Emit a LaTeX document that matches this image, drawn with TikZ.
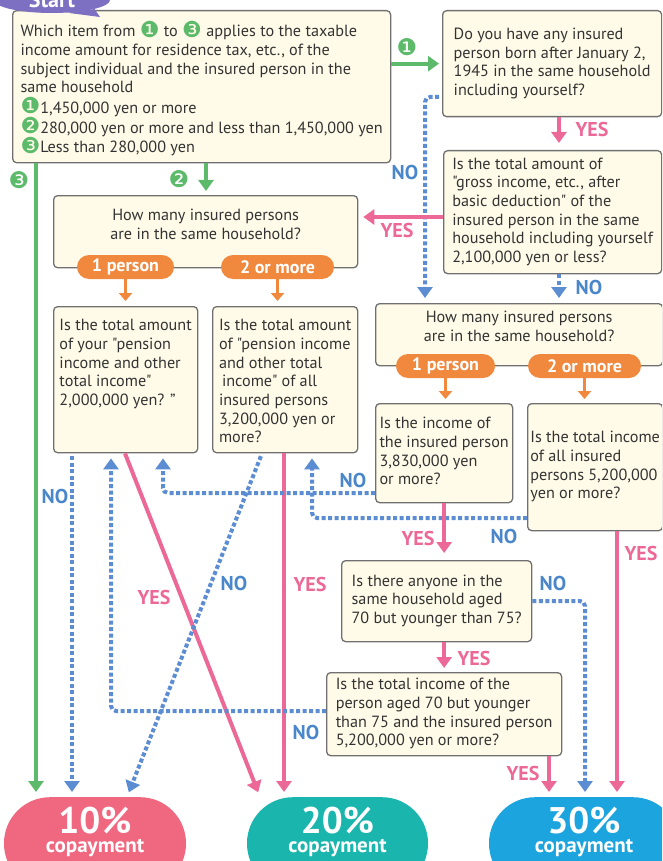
\documentclass[tikz,border=0pt]{standalone}
\usepackage{fontspec}
\setmainfont{PT Sans}[Ligatures=TeXOff]
\newfontfamily\symfont{DejaVu Sans}
\usetikzlibrary{arrows.meta,shapes.geometric}

\definecolor{cream}{RGB}{255,251,232}
\definecolor{boxline}{RGB}{112,112,112}
\definecolor{txt}{RGB}{51,51,51}
\definecolor{grn}{RGB}{92,186,106}
\definecolor{pnk}{RGB}{236,104,150}
\definecolor{blu}{RGB}{92,140,210}
\definecolor{blul}{RGB}{74,134,202}
\definecolor{org}{RGB}{240,136,62}
\definecolor{purp}{RGB}{125,112,194}
\definecolor{res10}{RGB}{240,103,128}
\definecolor{res20}{RGB}{26,182,173}
\definecolor{res30}{RGB}{28,164,222}

\newcommand{\qfont}{\fontsize{16.2}{18.7}\selectfont}
\newcommand{\lblfont}{\fontsize{20}{20}\selectfont\bfseries}
\newcommand{\pillfont}{\fontsize{18}{18}\selectfont\bfseries}
\newcommand{\gnum}[1]{\smash{\raisebox{-0.5pt}{\symfont\fontsize{22}{22}\selectfont\color{grn}#1}}}
\newcommand{\qlines}[1]{\begin{tabular}[t]{@{}l@{}}#1\end{tabular}}
\newcommand{\qclines}[1]{\begin{tabular}[t]{@{}c@{}}#1\end{tabular}}
\newcommand{\pctline}[1]{\begin{tabular}[t]{@{}c@{}}{\fontsize{37}{37}\selectfont #1\%}\\[2pt]{\fontsize{21}{21}\selectfont copayment}\end{tabular}}

\tikzset{
  qbox/.style={draw=boxline, line width=1.3pt, fill=cream, rounded corners=4pt,
    anchor=north west, inner sep=0pt, text=txt, font=\qfont},
  pill/.style={fill=org, text=white, rounded corners=12pt, minimum height=24pt,
    inner sep=0pt, font=\pillfont},
  startbub/.style={ellipse, fill=purp, text=white, minimum width=116pt,
    minimum height=26pt, inner sep=0pt, font=\fontsize{22}{22}\selectfont\bfseries},
  result/.style={rounded corners=46pt, anchor=north, text=white, inner xsep=0pt,
    inner ysep=10pt, text depth=46pt, font=\bfseries},
  grline/.style={draw=grn, line width=4pt, -{Triangle[width=15pt,length=11pt]}},
  yesline/.style={draw=pnk, line width=4pt, -{Triangle[width=15pt,length=11pt]}},
  noline/.style={draw=blu, line width=4pt, dash pattern=on 4pt off 2.5pt,
    rounded corners=5pt, -{Triangle[width=15pt,length=11pt]}},
  orline/.style={draw=org, line width=3pt, -{Triangle[width=13pt,length=8pt]}},
  yeslbl/.style={text=pnk, font=\lblfont, inner sep=0pt},
  nolbl/.style={text=blul, font=\lblfont, inner sep=0pt},
  numlbl/.style={text=grn, font=\symfont\fontsize{23}{23}\selectfont, inner sep=0pt}
}

\begin{document}
\begin{tikzpicture}[x=1pt,y=-1pt]

\useasboundingbox (0,0) rectangle (662,861);
\clip (0,0) rectangle (662,861);

% Questions
\node[qbox, minimum width=378pt, inner ysep=13pt, text depth=113pt] (q0) at (12,10)
  {\qlines{Which item from \gnum{❶} to \gnum{❸} applies to the taxable\\
   income amount for residence tax, etc., of the\\
   subject individual and the insured person in the\\
   same household\\[1.5pt]
   \gnum{❶}1,450,000 yen or more\\[1.5pt]
   \gnum{❷}280,000 yen or more and less than 1,450,000 yen\\[1pt]
   \gnum{❸}Less than 280,000 yen}};
\node[qbox, minimum width=219pt, minimum height=106pt] (q1) at (442,10)
  {\qlines{Do you have any insured\\person born after January 2,\\1945 in the same household\\including yourself?}};
\node[qbox, minimum width=218pt, minimum height=123pt] (q2) at (443,150)
  {\qlines{Is the total amount of\\"gross income, etc., after\\basic deduction" of the\\insured person in the same\\household including yourself\\2,100,000 yen or less?}};
\node[qbox, minimum width=304pt, inner ysep=12pt, text depth=35pt] (q3) at (53,195)
  {\qclines{How many insured persons\\are in the same household?}};
\node[qbox, minimum width=144pt, inner ysep=11pt, text depth=111pt] (q4) at (53,306)
  {\qlines{Is the total amount\\of your "pension\\income and other\\total income"\\2,000,000 yen? ”}};
\node[qbox, minimum width=145pt, inner ysep=11pt, text depth=111pt] (q5) at (212,306)
  {\qlines{Is the total amount\\of "pension income\\and other total\\\hspace{3pt}income" of all\\insured persons\\3,200,000 yen or\\more?}};
\node[qbox, minimum width=287pt, inner ysep=6pt, text depth=37pt] (q6) at (375,303)
  {\qclines{How many insured persons\\are in the same household?}};
\node[qbox, minimum width=137pt, minimum height=99pt] (q7) at (375,403)
  {\qlines{Is the income of\\the insured person\\3,830,000 yen\\or more?}};
\node[qbox, minimum width=135pt, minimum height=127pt] (q8) at (527,403)
  {\qlines{Is the total income\\of all insured\\persons 5,200,000\\yen or more?}};
\node[qbox, minimum width=190pt, minimum height=81pt] (q9) at (341,560)
  {\qlines{Is there anyone in the\\same household aged\\70 but younger than 75?}};
\node[qbox, minimum width=235pt, minimum height=83pt] (q10) at (326,672)
  {\qlines{Is the total income of the\\person aged 70 but younger\\than 75 and the insured person\\5,200,000 yen or more?}};

% Start bubble
\node[startbub] (start) at (52,0) {Start};
\coordinate (starttip) at (100,17);
\fill[purp] (start.-40) -- (start.-12) -- (starttip) -- cycle;

% Household pills
\node[pill, minimum width=97pt] (p3a) at (125.5,267) {1 person};
\node[pill, minimum width=113pt] (p3b) at (277.5,267) {2 or more};
\node[pill, minimum width=99pt] (p6a) at (445.5,366) {1 person};
\node[pill, minimum width=113pt] (p6b) at (584.5,366) {2 or more};

% Results
\node[result, fill=res10, minimum width=182pt] (r10) at (95,797) {\pctline{10}};
\node[result, fill=res20, minimum width=181pt] (r20) at (337.5,797) {\pctline{20}};
\node[result, fill=res30, minimum width=190pt] (r30) at (584,797) {\pctline{30}};

% Columns and rows of the connectors
\coordinate (cg3) at (36,0);
\coordinate (cg2) at (206,0);
\coordinate (cq1) at (559,0);
\coordinate (cq1no) at (425,0);
\coordinate (cq4no) at (72,0);
\coordinate (cq10no) at (111,0);
\coordinate (cq7no) at (163,0);
\coordinate (cq8no) at (312,0);
\coordinate (cq4yes) at (125,0);
\coordinate (cr20yes) at (260,0);
\coordinate (cq5no) at (262,0);
\coordinate (cr10no) at (127,0);
\coordinate (cq5yes) at (284,0);
\coordinate (cq10yes) at (549,0);
\coordinate (cq9no) at (585,0);
\coordinate (cq8yes) at (617,0);
\coordinate (rq1no) at (0,97);
\coordinate (rq2yes) at (0,217);
\coordinate (rq7no) at (0,493);
\coordinate (rq8no) at (0,518);
\coordinate (rq9no) at (0,601);
\coordinate (rq10no) at (0,711);

% Connectors
\draw[grline, shorten >=3pt] (q1.west -| q0.east) -- (q1.west);
\draw[grline, shorten >=5pt] (q0.south -| cg3) -- (r10.north -| cg3);
\draw[grline, shorten >=4pt] (q0.south -| cg2) -- (q3.north -| cg2);
\draw[yesline, shorten >=7pt] (q1.south -| cq1) -- (q2.north -| cq1);
\draw[noline, shorten >=5pt] (q2.south -| cq1) -- (q6.north -| cq1);
\draw[noline, shorten <=3pt, shorten >=5pt] (q1.west |- rq1no) -| (q6.north -| cq1no);
\draw[yesline, shorten >=5pt] (q2.west |- rq2yes) -- (q3.east |- rq2yes);
\draw[orline, shorten >=5pt] (p3a.south) -- (q4.north -| p3a.south);
\draw[orline, shorten >=5pt] (p3b.south) -- (q5.north -| p3b.south);
\draw[orline, shorten >=4pt] (p6a.south) -- (q7.north -| p6a.south);
\draw[orline, shorten >=4pt] (p6b.south) -- (q8.north -| p6b.south);
\draw[yesline, shorten >=5pt] (q4.south -| cq4yes) -- (r20.north -| cr20yes);
\draw[yesline, shorten >=5pt] (q5.south -| cq5yes) -- (r20.north -| cq5yes);
\draw[noline, shorten <=3pt, shorten >=5pt] (q5.south -| cq5no) -- (r10.north -| cr10no);
\draw[noline, shorten <=3pt, shorten >=5pt] (q4.south -| cq4no) -- (r10.north -| cq4no);
\draw[noline, shorten >=5pt] (q7.west |- rq7no) -| (q4.south -| cq7no);
\draw[noline, shorten >=5pt] (q8.west |- rq8no) -| (q5.south -| cq8no);
\draw[noline, shorten >=5pt] (q10.west |- rq10no) -| (q4.south -| cq10no);
\draw[yesline, shorten >=7pt] (q7.south) -- (q9.north -| q7.south);
\draw[noline, shorten >=5pt] (q9.east |- rq9no) -| (r30.north -| cq9no);
\draw[yesline, shorten >=4pt] (q9.south -| q7.south) -- (q10.north -| q7.south);
\draw[yesline, shorten >=5pt] (q10.south -| cq10yes) -- (r30.north -| cq10yes);
\draw[yesline, shorten >=5pt] (q8.south -| cq8yes) -- (r30.north -| cq8yes);

% Labels
\node[numlbl] (n1) at (407,47) {❶};
\node[numlbl] (n2) at (179,179) {❷};
\node[numlbl] (n3) at (19,180) {❸};
\node[yeslbl] (y1) at (592,130) {YES};
\node[nolbl] (no1) at (405,172) {NO};
\node[yeslbl] (y2) at (397,230) {YES};
\node[nolbl] (no2) at (589,287) {NO};
\node[nolbl] (no4) at (55,496) {NO};
\node[yeslbl] (y4) at (154,597) {YES};
\node[nolbl] (no5) at (234,583) {NO};
\node[yeslbl] (y5) at (310,584) {YES};
\node[nolbl] (no7) at (353,480) {NO};
\node[yeslbl] (y7) at (418,538) {YES};
\node[nolbl] (no8) at (504,536) {NO};
\node[yeslbl] (y8) at (641,553) {YES};
\node[nolbl] (no9) at (553,583) {NO};
\node[yeslbl] (y9) at (474,658) {YES};
\node[nolbl] (no10) at (306,732) {NO};
\node[yeslbl] (y10) at (523,773) {YES};

\end{tikzpicture}
\end{document}
